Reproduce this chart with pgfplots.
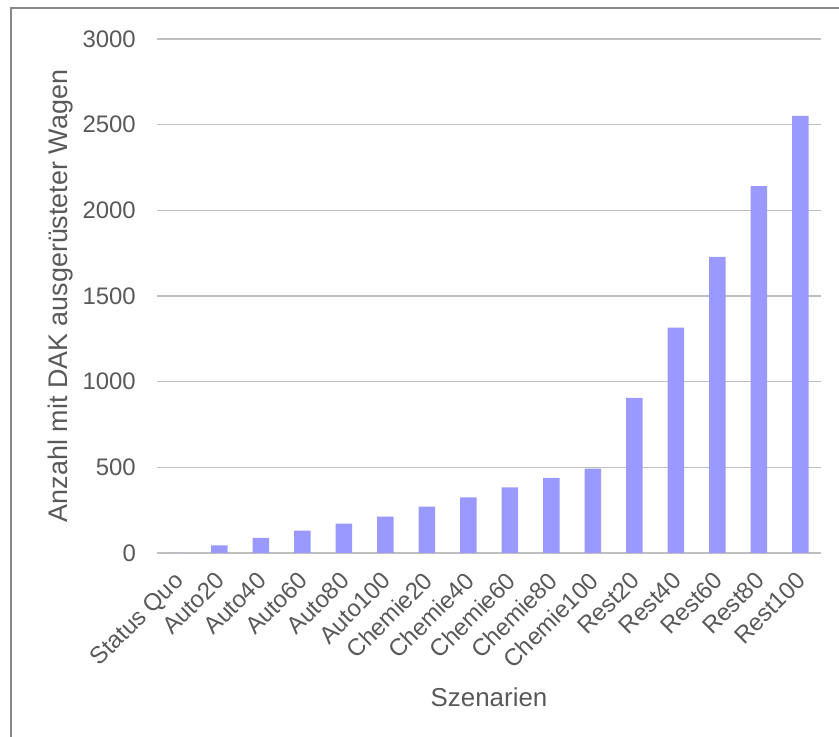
\documentclass[border=0pt]{standalone}
\usepackage{pgfplots}
\pgfplotsset{compat=1.18}
\usepackage{fontspec}
\setmainfont{Liberation Sans}
\definecolor{txt}{HTML}{595959}
\definecolor{grid}{HTML}{D9D9D9}
\definecolor{bar}{HTML}{9999FF}
\definecolor{frame}{HTML}{888888}
\begin{document}
\begin{tikzpicture}[x=1bp,y=1bp]
\path[use as bounding box] (0,0) rectangle (839,737);
\draw[frame, line width=2bp] (10.5,0) -- (10.5,728.5) -- (839,728.5);
\begin{axis}[
  at={(157bp,184bp)}, anchor=south west,
  scale only axis, width=664bp, height=514bp,
  xmin=-0.5, xmax=15.5, ymin=0, ymax=3000,
  ytick={0,500,1000,1500,2000,2500,3000},
  xtick={0,...,15},
  xticklabels={Status Quo,Auto20,Auto40,Auto60,Auto80,Auto100,Chemie20,Chemie40,Chemie60,Chemie80,Chemie100,Rest20,Rest40,Rest60,Rest80,Rest100},
  ybar, bar width=16.5bp,
  axis line style={draw=none},
  ymajorgrids, xmajorgrids=false,
  grid style={grid, line width=1.5bp},
  xtick style={draw=none}, ytick style={draw=none},
  ticklabel style={text=txt, font=\fontsize{24}{27}\selectfont},
  yticklabel style={anchor=east, inner sep=0pt, xshift=-21bp},
  x tick label style={anchor=north east, inner sep=0pt, xshift=-5bp, yshift=-13bp, rotate=45},
  xlabel={Szenarien}, ylabel={Anzahl mit DAK ausgerüsteter Wagen},
  every axis x label/.style={at={(axis description cs:0.5,-0.280)}, anchor=center, text=txt, font=\fontsize{26}{29}\selectfont},
  every axis y label/.style={at={(axis description cs:-0.146,0.5)}, rotate=90, anchor=center, text=txt, font=\fontsize{27}{30}\selectfont},
  /pgf/number format/assume math mode=true,
  scaled y ticks=false,
  yticklabel={\pgfmathprintnumber[set thousands separator={}]{\tick}},
  clip=false,
]
\addplot[fill=bar, draw=none] coordinates {
(0,0) (1,45) (2,88) (3,130) (4,172) (5,213) (6,270) (7,325) (8,383) (9,438) (10,493) (11,905) (12,1315) (13,1728) (14,2141) (15,2551)
};
\end{axis}
\end{tikzpicture}
\end{document}
